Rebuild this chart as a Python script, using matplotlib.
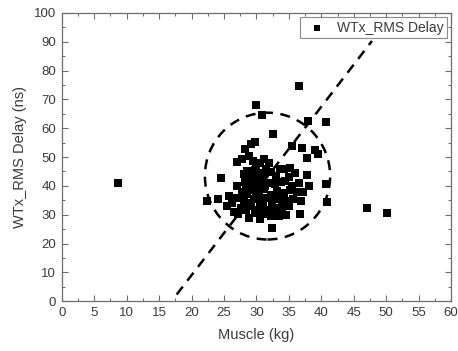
import matplotlib
matplotlib.use("Agg")
import matplotlib.pyplot as plt
from matplotlib.patches import Ellipse
from matplotlib.ticker import MultipleLocator

plt.rcParams['font.family'] = ['Liberation Sans', 'DejaVu Sans']

# muscle mass (kg) and RMS delay (ns) per subject
muscle = [8.7, 22.3, 24.0, 24.5, 47.0, 50.1, 29.9, 30.8, 36.5, 38.0,
          40.7, 32.5, 29.8, 29.2, 35.5, 37.0, 39.0, 39.5, 37.8, 35.2,
          37.8, 33.6, 40.7, 40.8, 38.1, 36.7, 32.4, 33.4, 27.0, 27.8,
          28.2, 27.0, 27.2, 27.0, 34.3, 34.4, 28.8,
          29.5, 30.5, 31.2, 32.0, 30.0, 31.5,
          28.5, 29.3, 30.2, 31.0, 32.2, 33.0, 28.0, 35.0, 36.0,
          28.2, 29.0, 30.0, 30.8, 31.8, 32.8, 33.8, 35.5, 36.5, 29.5,
          27.8, 28.6, 29.4, 30.4, 31.2, 32.2, 33.2, 34.2, 35.2, 36.2, 37.2,
          28.0, 28.8, 29.6, 30.6, 31.4, 32.4, 33.4, 34.4, 35.6, 36.8, 26.3, 25.8,
          27.6, 28.4, 29.2, 30.0, 31.0, 32.0, 33.0, 34.0, 35.0, 29.8, 31.6, 26.5, 25.5,
          28.8, 30.5, 32.2, 34.5,
          29.9, 30.3, 31.0, 31.3, 30.1, 29.7, 32.6, 33.9, 28.4, 30.9]
delay = [41.1, 34.6, 35.5, 42.8, 32.4, 30.7, 67.9, 64.5, 74.7, 62.5,
         62.2, 57.9, 55.2, 54.4, 54.0, 53.3, 52.5, 51.0, 49.6, 46.3,
         43.8, 45.7, 40.5, 34.4, 39.9, 30.1, 25.5, 29.5, 48.3, 49.2,
         52.7, 39.9, 30.1, 35.9, 45.7, 41.7, 50.5,
         48.5, 47.8, 49.5, 48.0, 46.5, 46.0,
         45.0, 43.5, 44.5, 43.0, 44.8, 43.5, 44.0, 43.0, 44.5,
         41.5, 40.5, 41.8, 40.2, 41.0, 40.5, 41.5, 40.0, 41.0, 42.5,
         38.0, 37.2, 38.5, 37.5, 38.8, 37.0, 38.2, 37.5, 38.5, 37.8, 38.0,
         35.0, 34.2, 35.5, 34.5, 35.8, 34.2, 35.5, 34.8, 35.5, 34.8, 34.0, 36.5,
         32.5, 31.5, 33.0, 31.8, 32.8, 31.5, 32.5, 31.8, 33.0, 30.5, 30.2, 31.0, 33.0,
         29.0, 28.5, 29.5, 30.0,
         39.2, 36.2, 33.6, 39.8, 42.9, 45.4, 36.0, 33.8, 40.0, 30.8]

# dashed trend line end points and cluster ring
trend_x = [17.7, 47.8]
trend_y = [2.3, 90.3]
ring_center = (31.7, 43.4)
ring_w, ring_h = 19.3, 44.0

grey = '#6e6e6e'
txt = '#3a3a3a'

fig = plt.figure(figsize=(4.58, 3.51), dpi=100)
ax = fig.add_axes([0.135, 0.142, 0.85, 0.821])

ax.scatter(muscle, delay, marker='s', s=27, color='black', linewidths=0,
           label='WTx_RMS Delay', zorder=3)
ax.plot(trend_x, trend_y, color='black', lw=1.8, dashes=(4, 3), zorder=2)
ax.add_patch(Ellipse(ring_center, ring_w, ring_h, fill=False, ec='black',
                     lw=1.8, ls=(0, (4, 3)), zorder=2))

ax.set_xlim(0, 60)
ax.set_ylim(0, 100)
ax.xaxis.set_major_locator(MultipleLocator(5))
ax.xaxis.set_minor_locator(MultipleLocator(2.5))
ax.yaxis.set_major_locator(MultipleLocator(10))
ax.yaxis.set_minor_locator(MultipleLocator(5))
ax.tick_params(which='both', direction='in', top=True, right=True,
               color=grey, labelsize=9.5, labelcolor=txt, width=0.8)
ax.tick_params(which='major', length=4, pad=4)
ax.tick_params(which='minor', length=2)
for s in ax.spines.values():
    s.set_color(grey)
    s.set_linewidth(0.9)

ax.set_xlabel('Muscle (kg)', fontsize=10.5, color=txt, labelpad=7)
ax.set_ylabel('WTx_RMS Delay (ns)', fontsize=10.5, color=txt, labelpad=5)

leg = ax.legend(loc='upper right', fontsize=10, frameon=True, fancybox=False,
                borderpad=0.25, handletextpad=0.4, borderaxespad=0.3,
                handlelength=2.0, markerscale=0.9)
leg.get_frame().set_edgecolor(grey)
leg.get_frame().set_linewidth(0.8)
for t in leg.get_texts():
    t.set_color(txt)

fig.savefig('out.png', dpi=100)
